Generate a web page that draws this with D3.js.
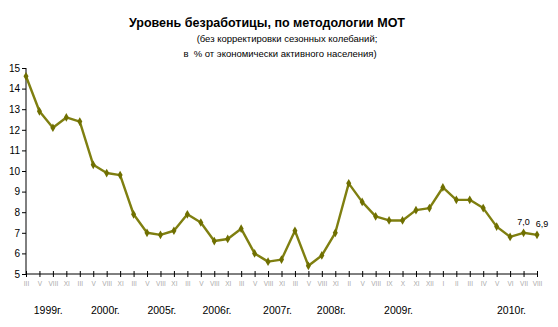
<!DOCTYPE html>
<html><head><meta charset="utf-8">
<script src="https://cdn.jsdelivr.net/npm/d3@7"></script>
<style>body{margin:0;background:#fff}svg{display:block}</style>
</head><body>
<script>
const months = ["III","V","VIII","XI","III","V","VIII","XI","III","V","VIII","XI","III","V","VIII","XI","III","V","VIII","XI","III","V","VIII","XI","II","V","VIII","IX","X","XI","XII","I","II","III","IV","V","VI","VII","VIII"];
const values = [14.6,12.9,12.1,12.6,12.4,10.3,9.9,9.8,7.9,7.0,6.9,7.1,7.9,7.5,6.6,6.7,7.2,6.0,5.6,5.7,7.1,5.4,5.9,7.0,9.4,8.5,7.8,7.6,7.6,8.1,8.2,9.2,8.6,8.6,8.2,7.3,6.8,7.0,6.9];
const years = ["1999г.","2000г.","2005г.","2006г.","2007г.","2008г.","2009г.","2010г."];
const yearPos = [1.65,5.9,10.1,14.2,18.7,22.7,27.7,36.1];
const yTicks = [5,6,7,8,9,10,11,12,13,14,15];
const labelled = [{i:37,t:"7,0",dx:0},{i:38,t:"6,9",dx:5}];

const W=558,H=327;
const svg=d3.select("body").append("svg").attr("width",W).attr("height",H);
const font="'Liberation Sans', Arial, sans-serif";
const x=d3.scaleLinear().domain([0,months.length-1]).range([26,537]);
const y=d3.scaleLinear().domain([5,15]).range([274,68]);

svg.append("text").attr("x",267).attr("y",27).attr("text-anchor","middle")
  .attr("font-family",font).attr("font-size",12.5).attr("font-weight","bold").text("Уровень безработицы, по методологии МОТ");
svg.append("text").attr("x",287).attr("y",42).attr("text-anchor","middle")
  .attr("font-family",font).attr("font-size",9.5).text("(без корректировки сезонных колебаний;");
svg.append("text").attr("x",280).attr("y",57).attr("text-anchor","middle")
  .attr("font-family",font).attr("font-size",9.5).attr("xml:space","preserve").text("в  % от экономически активного населения)");

// y axis
const ya=svg.append("g").attr("transform","translate(26,0)")
  .call(d3.axisLeft(y).tickValues(yTicks).tickSize(4).tickFormat(d3.format("d")));
ya.selectAll("path,line").attr("stroke","#000");
ya.select(".domain").attr("d","M0,68V274");
ya.selectAll("text").attr("font-family",font).attr("font-size",10).attr("fill","#000").attr("x",-6);

// x axis
const xa=svg.append("g").attr("transform","translate(0,274)")
  .call(d3.axisBottom(x).tickValues(d3.range(months.length)).tickSize(0).tickFormat(i=>months[i]));
xa.select(".domain").attr("d","M26,0H537").attr("stroke","#000");
xa.selectAll(".tick").append("line").attr("y1",-3).attr("y2",3).attr("stroke","#000");
xa.selectAll("text").attr("font-family",font).attr("font-size",6.5).attr("fill","#aaa").attr("dy","0.55em").attr("y",8);

svg.append("g").selectAll("text").data(years).join("text")
  .attr("x",(d,i)=>x(yearPos[i])).attr("y",314).attr("text-anchor","middle")
  .attr("font-family",font).attr("font-size",10.5).text(d=>d);

const line=d3.line().x((d,i)=>x(i)).y(d=>y(d));
svg.append("path").datum(values).attr("d",line).attr("fill","none")
  .attr("stroke","#7f7f10").attr("stroke-width",2.4).attr("stroke-linejoin","round");
svg.append("g").selectAll("path").data(values).join("path")
  .attr("transform",(d,i)=>`translate(${x(i)},${y(d)})`)
  .attr("d",d3.symbol(d3.symbolDiamond,22)).attr("fill","#6f6f00");

svg.append("g").selectAll("text").data(labelled).join("text")
  .attr("x",d=>x(d.i)+d.dx).attr("y",d=>y(values[d.i])-8).attr("text-anchor","middle")
  .attr("font-family",font).attr("font-size",9).text(d=>d.t);
</script>
</body></html>
